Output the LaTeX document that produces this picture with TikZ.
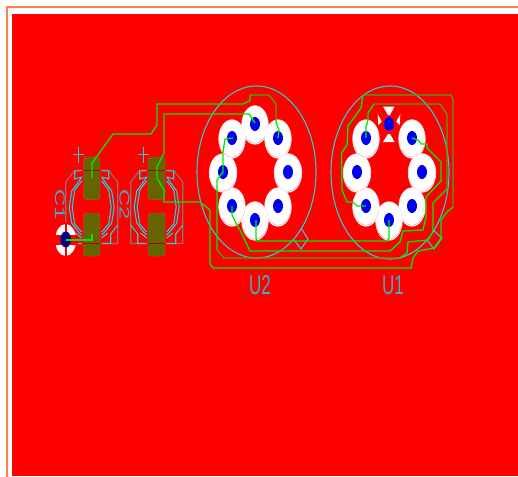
\documentclass[tikz,border=0pt]{standalone}
\usepackage{graphicx}
\usepackage{fontspec}
\setmainfont{Liberation Sans}
\definecolor{pcbred}{RGB}{255,0,0}
\definecolor{frameor}{RGB}{255,128,64}
\definecolor{trbright}{RGB}{0,235,0}
\definecolor{trdark}{RGB}{70,165,20}
\definecolor{silkcy}{RGB}{40,205,215}
\definecolor{silktx}{RGB}{60,175,195}
\definecolor{silkgr}{RGB}{150,110,110}
\definecolor{padol}{RGB}{100,100,0}
\definecolor{holeblue}{RGB}{0,0,240}
\definecolor{holenavy}{RGB}{0,0,130}
\definecolor{halo}{RGB}{255,150,150}
\tikzset{
  trace/.style={draw=trbright,line width=1.3pt,line join=miter},
  tracedark/.style={draw=trdark,line width=1.3pt,line join=miter},
  outline/.style={draw=silkcy,line width=1.1pt},
  silkgray/.style={draw=silkgr,line width=1.1pt},
  smdpad/.style={fill=padol,draw=silkgr,line width=.4pt,rounded corners=3pt},
  silktext/.style={text=silktx,inner sep=0pt,outer sep=0pt}
}
% white pad with blue hole
\newcommand{\padwhite}[3]{%
  \fill[white] (#1,#2+1) ellipse [x radius=#3+1.6,y radius=19.6];
  \draw[halo,line width=.4pt] (#1,#2+.6) ellipse [x radius=#3+1,y radius=18.6];
  \fill[white] (#1,#2) ellipse [x radius=#3+1,y radius=18];
}
\newcommand{\padhole}[2]{\fill[holeblue] (#1,#2) ellipse [x radius=5,y radius=7];}
% capacitor footprint
\newcommand{\capfoot}[1]{%
  \begin{scope}[shift={(#1,207)}]
    \foreach \sx in {1,-1}{
      \begin{scope}[xscale=\sx]
        \draw[silkgray] (9.7,-36.5) -- (17,-36.5) -- (26,-25) -- (26,24) -- (26,36.5) -- (9.7,36.5);
        \draw[outline] (10,-36.5) -- (17,-36) -- (17,-28) -- (10,-30);
        \draw[outline] (10,-30) -- (14,-24) -- (20,-16) -- (22.5,0) -- (20,16) -- (14,24) -- (10,28);
        \draw[outline] (10,-26) -- (17,-17) -- (19.5,0) -- (17,17) -- (10,25);
        \draw[outline] (10,36.5) -- (19,36.5) -- (19,27) -- (26,18);
        \draw[outline] (10,31) -- (16,26);
      \end{scope}
    }
    \draw[pcbred!70!black,line width=.6pt] (-8.5,-36.5) -- (8.5,-36.5) (-8.5,36.5) -- (8.5,36.5);
  \end{scope}
}
\begin{document}
\begin{tikzpicture}[x=1pt,y=-1pt]
\path[use as bounding box] (0,0) rectangle (518,476);
\clip (0,0) rectangle (518,476);
\fill[white] (0,0) rectangle (518,476);
\fill[pcbred] (12,14) rectangle (518,476);
\draw[frameor,line width=1.3pt] (7,480) -- (7,7) -- (522,7);

% capacitor pads
\draw[smdpad] (83.5,157) rectangle (100,199.5);
\draw[smdpad] (83.5,213) rectangle (100,256);
\draw[smdpad] (148,157) rectangle (165,199.5);
\draw[smdpad] (148,213) rectangle (165,256);
\capfoot{91.7}
\capfoot{156.7}

% U2 pads
\padwhite{255}{124}{12}
\padwhite{278}{138}{12}
\padwhite{288}{172}{12.5}
\padwhite{278}{206}{12}
\padwhite{255}{220}{12}
\padwhite{232}{206}{12}
\padwhite{223}{172}{12.5}
\padwhite{232}{138}{12}
\foreach \px/\py in {255/124,278/138,288/172,278/206,255/220,232/206,223/172,232/138}{\padhole{\px}{\py}}

% U1 pads
\padwhite{412}{138}{12}
\padwhite{422}{172}{12.5}
\padwhite{412}{206}{12}
\padwhite{389}{220}{12}
\padwhite{366}{206}{12}
\padwhite{357}{172}{12.5}
\padwhite{366}{138}{12}
% U1 thermal pad spokes
\fill[white] (383,106.5) -- (394.5,106.5) -- (390,115) -- (388,115) -- cycle;
\fill[white] (383,142) -- (394.5,142) -- (390,134) -- (388,134) -- cycle;
\fill[white] (377.7,114) -- (381.7,121.7) -- (378.3,125) -- cycle;
\fill[white] (400.3,114) -- (396.3,121.7) -- (399.7,125) -- cycle;
\foreach \px/\py in {412/138,422/172,412/206,389/220,366/206,357/172,366/138,389/124}{\padhole{\px}{\py}}

% C1 thermal pad
\fill[white] (65.7,240) ellipse [x radius=10.5,y radius=16];
\fill[pcbred] (54,235) rectangle (78,245);
\fill[pcbred] (65,222) rectangle (66.6,258);
\fill[holenavy] (65.7,239.5) ellipse [x radius=5.3,y radius=8];

% package outlines
\draw[outline] (256.5,172) ellipse [x radius=59.5,y radius=86];
\draw[outline] (390,172.5) ellipse [x radius=59,y radius=86.5];
\draw[outline] (301,228) -- (308,239) -- (301,249) -- (294,240);
\draw[outline] (433,230) -- (442,238) -- (434,249) -- (427,240);

% traces
\draw[trace] (92,178) -- (92,163) -- (113,134) -- (151,134) -- (157,125) -- (157,104) -- (243,104) -- (250,100.7) -- (250,95);
\draw[tracedark] (250,95) -- (269,95) -- (276,104) -- (276,122);
\draw[trace] (276,122) -- (279,130) -- (278,138);
\draw[trace] (92,234) -- (92,240) -- (66,240);
\draw[trace] (157,178) -- (157,167) -- (164,153) -- (164,114) -- (249,114) -- (255,123);
\draw[trace] (157,178) -- (164,190) -- (164,202) -- (200,202) -- (210,210) -- (210,264) -- (213,268) -- (411,268) -- (413,258) -- (418,251) -- (434,248) -- (441,238) -- (441,220) -- (447,212) -- (453,207);
\draw[tracedark] (453,207) -- (453,99) -- (451,95) -- (363,95);
\draw[trace] (363,95) -- (361,108) -- (348,126) -- (347,145) -- (341.5,153) -- (342,190) -- (347,202) -- (353,202) -- (357,206) -- (366,206);
\draw[trace] (233,138) -- (225,139) -- (223,152) -- (223,172) -- (217,180) -- (217,250);
\draw[tracedark] (217,250) -- (224,258) -- (400,258);
\draw[trace] (400,258) -- (407,253) -- (408,242) -- (428,240) -- (433,232) -- (433,203) -- (447,189);
\draw[tracedark] (447,189) -- (447,114) -- (440,104) -- (374,104);
\draw[trace] (374,104) -- (368,113) -- (368,120) -- (366,127) -- (366,138);
\draw[trace] (256,220) -- (256,238) -- (257,241) -- (387,241) -- (389,238) -- (389,220);
\draw[trace] (232,206) -- (232,215) -- (237,225) -- (240,230) -- (250,251) -- (390,251) -- (400,242) -- (403,231) -- (423,230) -- (426,217) -- (426,197) -- (441,181) -- (441,162) -- (427,148) -- (427,144) -- (421,144) -- (418,140) -- (412,138);

% silk text
\draw[silkcy,line width=1.1pt] (73,154.3) -- (84,154.3) (78.3,147) -- (78.3,163);
\draw[silkcy,line width=1.1pt] (138,154.3) -- (149,154.3) (143.3,147) -- (143.3,163);
\node[silktext] (lblU2) at (260,285.5) {\scalebox{1}[1.6]{\fontsize{17}{17}\selectfont U2}};
\node[silktext] (lblU1) at (393,285.5) {\scalebox{1}[1.6]{\fontsize{17}{17}\selectfont U1}};
\node[silktext] (lblC1) at (60,205) {\rotatebox{-90}{\scalebox{1.7}[1]{\fontsize{14}{14}\selectfont C1}}};
\node[silktext] (lblC2) at (124.5,205) {\rotatebox{-90}{\scalebox{1.7}[1]{\fontsize{14}{14}\selectfont C2}}};
\end{tikzpicture}
\end{document}
